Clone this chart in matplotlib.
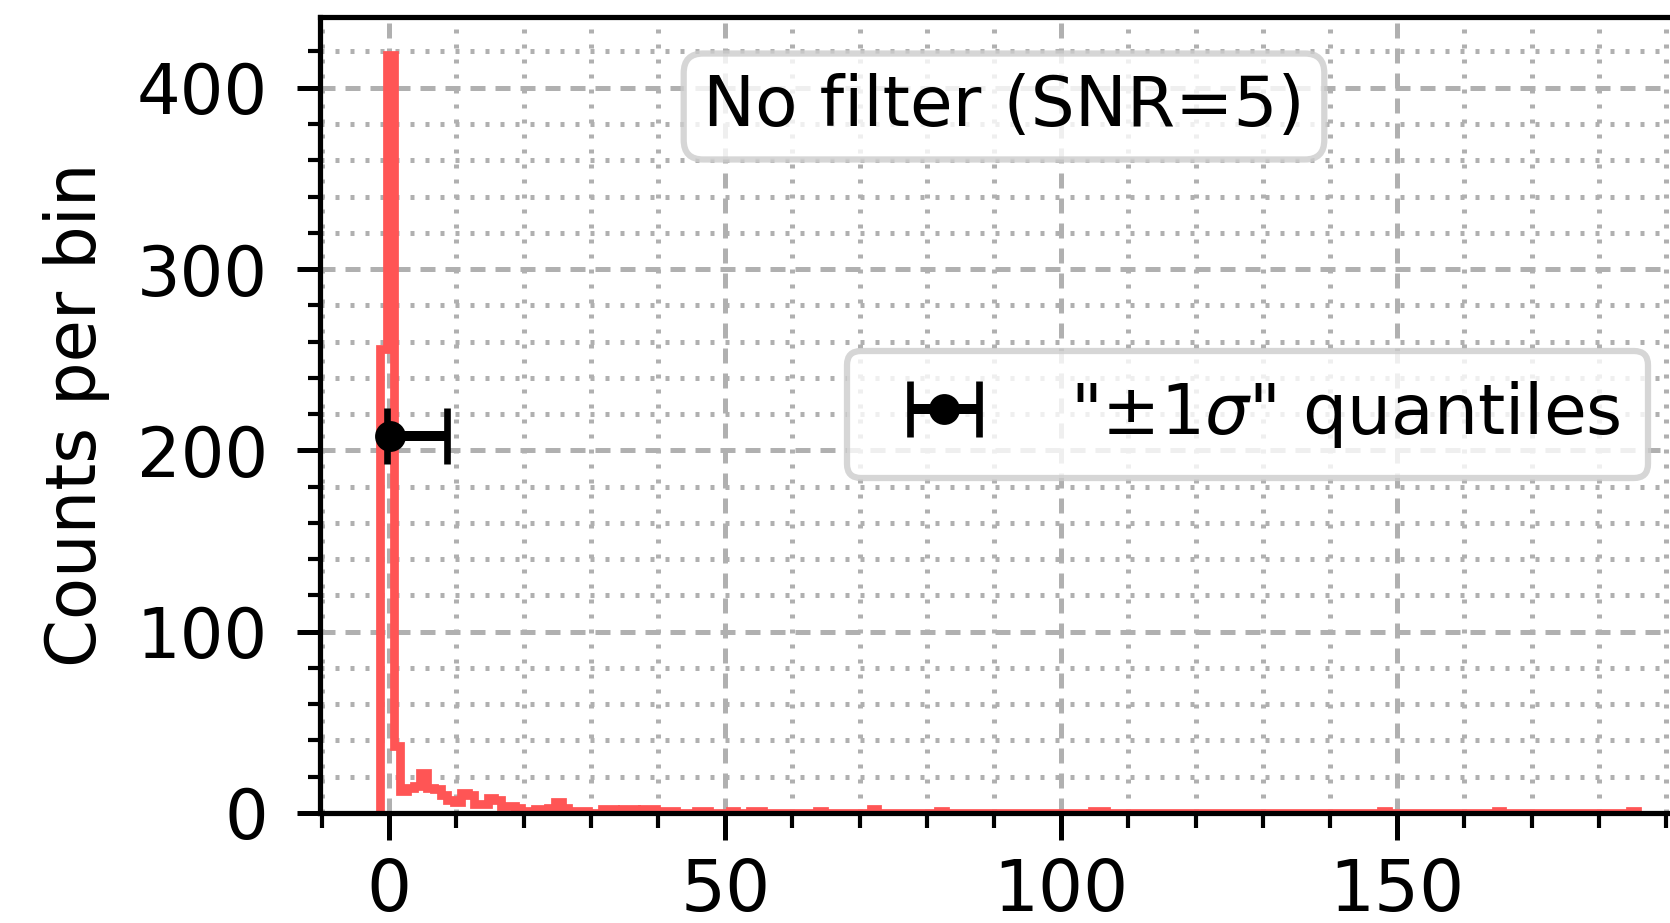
import matplotlib
matplotlib.use("Agg")
import matplotlib.pyplot as plt
import numpy as np

# histogram: bins of width 1, first edge at -1.35
bin_start = -1.35
bin_width = 1.0
n_bins = 187

# counts for the first bins (k = -1 ... 55)
counts_head = [256, 418, 37, 12, 14, 15, 22, 14, 13, 10,
               7, 6, 11, 10, 5, 5, 8, 7, 4, 4,
               3, 1, 1, 2, 2, 3, 6, 3, 1, 1,
               1, 0, 0, 2, 2, 1, 2, 2, 1, 2,
               2, 1, 1, 1, 0, 0, 0, 1, 1, 0,
               0, 0, 1, 0, 0, 1, 1]
# sparse tail: bin index k -> count
counts_tail = {64: 1, 72: 2, 82: 1, 105: 1, 106: 1, 148: 1, 165: 1, 185: 1}

# "+-1 sigma" quantile marker
q_x = 0.05
q_y = 208
q_lo = 0.4
q_hi = 8.55

box_label = "No filter (SNR=5)"
err_label = r'"$\pm1\sigma$" quantiles'

W, H, DPI = 1670, 923, 300
RED = "#ff5555"
GRID = "#b0b0b0"

edges = bin_start + bin_width * np.arange(n_bins + 1)
counts = np.zeros(n_bins)
counts[:len(counts_head)] = counts_head
for k, c in counts_tail.items():
    counts[k + 1] = c

plt.rcParams["font.family"] = ["DejaVu Sans"]
plt.rcParams["axes.linewidth"] = 1.25

fig = plt.figure(figsize=(W / DPI, H / DPI), dpi=DPI)

# axes runs off the right edge of the picture
x_lo, x_hi = -10.3, 195.0
px_per_unit = 6.72
ax_left, ax_bottom, ax_top = 320, 813, 17
ax_w = (x_hi - x_lo) * px_per_unit
ax = fig.add_axes([ax_left / W, 1 - ax_bottom / H, ax_w / W, (ax_bottom - ax_top) / H])

ax.stairs(counts, edges, color=RED, lw=2.1, baseline=0, zorder=2)
eb = ax.errorbar([q_x], [q_y], xerr=[[q_lo], [q_hi]], fmt="o", color="k",
                 ms=6.4, elinewidth=2.4, capsize=6.8, capthick=1.6, zorder=3)

ax.set_xlim(x_lo, x_hi)
ax.set_ylim(0, 439)

ax.xaxis.set_major_locator(matplotlib.ticker.MultipleLocator(50))
ax.xaxis.set_minor_locator(matplotlib.ticker.MultipleLocator(10))
ax.yaxis.set_major_locator(matplotlib.ticker.MultipleLocator(100))
ax.yaxis.set_minor_locator(matplotlib.ticker.MultipleLocator(20))

ax.grid(which="major", color=GRID, lw=1.2, linestyle=(0, (3.0, 2.0)), zorder=0)
ax.grid(which="minor", color=GRID, lw=1.2, linestyle=(0, (0.8, 2.2)), zorder=0)
ax.set_axisbelow(True)

ax.tick_params(axis="x", which="major", length=6.5, width=1.2, labelsize=17, pad=4)
ax.tick_params(axis="x", which="minor", length=3.6, width=1.0)
ax.tick_params(axis="y", which="major", length=5.5, width=1.2, labelsize=16.5, pad=7)
ax.tick_params(axis="y", which="minor", length=2.9, width=1.0)

ax.set_ylabel("Counts per bin", fontsize=16.5)
ax.yaxis.set_label_coords((110 - ax_left) / ax_w, 0.5)

ax.text(1004 / W, 1 - 106.5 / H, box_label, transform=fig.transFigure,
        ha="center", va="center", fontsize=16.7, zorder=5,
        bbox=dict(boxstyle="round,pad=0.28", fc="white", ec="0.8", alpha=0.8, lw=1.5))

leg = ax.legend([eb], [err_label], loc="upper left", fontsize=16.7,
                bbox_to_anchor=(847 / W, 1 - 351 / H), bbox_transform=fig.transFigure,
                borderaxespad=0)
leg.get_frame().set_linewidth(1.5)

fig.savefig("out.png", dpi=DPI)
